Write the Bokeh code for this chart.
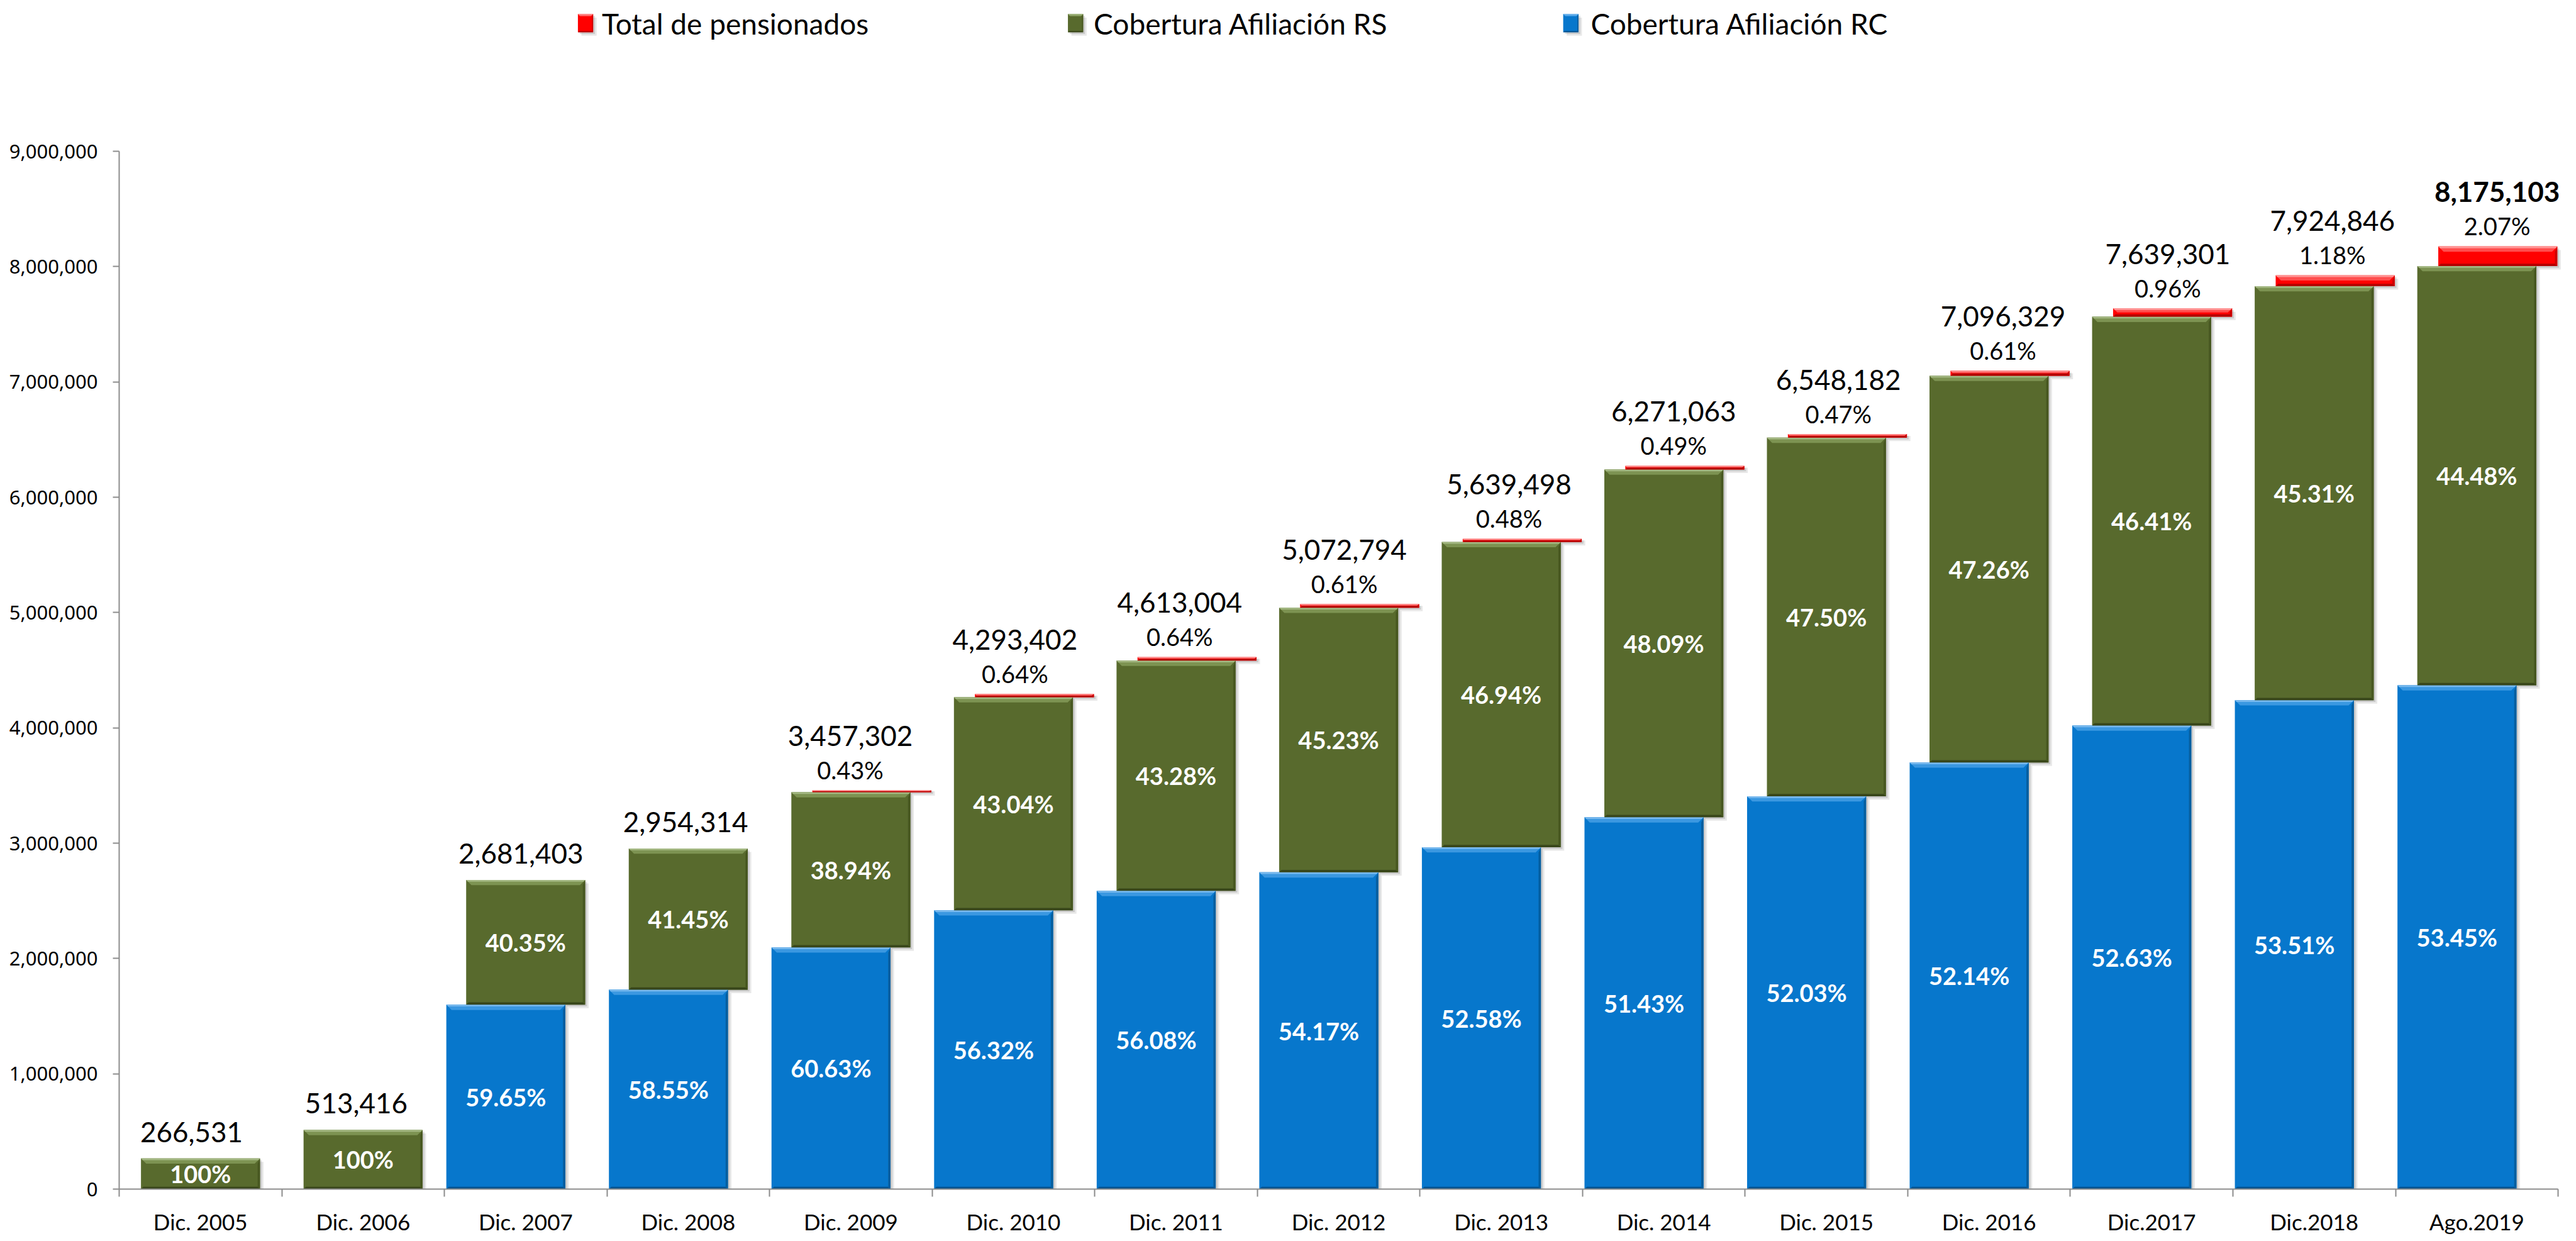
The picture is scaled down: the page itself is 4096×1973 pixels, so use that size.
from bokeh.plotting import figure
from bokeh.models import Range1d, FixedTicker, NumeralTickFormatter, ColumnDataSource
from bokeh.embed import file_html
from bokeh.resources import INLINE
from bokeh.core.properties import value

# ---------------- data ----------------
categories = ["Dic. 2005", "Dic. 2006", "Dic. 2007", "Dic. 2008", "Dic. 2009", "Dic. 2010",
              "Dic. 2011", "Dic. 2012", "Dic. 2013", "Dic. 2014", "Dic. 2015", "Dic. 2016",
              "Dic.2017", "Dic.2018", "Ago.2019"]
total_pensionados = [266531, 513416, 2681403, 2954314, 3457302, 4293402, 4613004, 5072794,
                     5639498, 6271063, 6548182, 7096329, 7639301, 7924846, 8175103]
pct_rc = [0.0, 0.0, 59.65, 58.55, 60.63, 56.32, 56.08, 54.17, 52.58, 51.43, 52.03, 52.14,
          52.63, 53.51, 53.45]
pct_rs = [100.0, 100.0, 40.35, 41.45, 38.94, 43.04, 43.28, 45.23, 46.94, 48.09, 47.50, 47.26,
          46.41, 45.31, 44.48]
pct_pens = [0.0, 0.0, 0.0, 0.0, 0.43, 0.64, 0.64, 0.61, 0.48, 0.49, 0.47, 0.61, 0.96, 1.18, 2.07]
y_ticks = [0, 1000000, 2000000, 3000000, 4000000, 5000000, 6000000, 7000000, 8000000, 9000000]
legend_labels = ["Total de pensionados", "Cobertura Afiliación RS", "Cobertura Afiliación  RC"]

# ---------------- layout ----------------
S = 0.932
W, H = 4088, 1965
FL = 189            # frame left (px)
FB = 1892           # frame bottom (px from top) = zero line
PXC = 277.4 * S     # px per category
PXM = 196.9 * S / 1e6  # px per unit
x_end = (W - FL) / PXC
y_end = FB / PXM


def dx(r):
    return r * S / PXC


def dy(r):
    return r * S / PXM


def X(r):
    return (r * S - 8 - FL) / PXC


def Y(r):
    return (FB - (r * S - 8)) / PXM


BW = 0.732
OFF = {"rc": -0.122, "rs": 0.0, "pens": 0.129}
COL = {
    "rc": dict(base="#0777CC", light="#3B98E1", lighter="#78B9EE", dark="#04528F", side="#055E9F"),
    "rs": dict(base="#586A2D", light="#7D9352", lighter="#A4B883", dark="#38461A", side="#475720"),
    "pens": dict(base="#FF0000", light="#FF4D4D", lighter="#FF9494", dark="#B30000", side="#CC0000"),
}

p = figure(width=W, height=H, x_range=Range1d(0, x_end), y_range=Range1d(0, y_end),
           output_backend="svg", toolbar_location=None, title=None,
           min_border=0, min_border_left=FL, min_border_right=0, min_border_top=0,
           min_border_bottom=H - FB)
p.outline_line_color = None
p.xgrid.visible = False
p.ygrid.visible = False
p.background_fill_color = "white"
p.border_fill_color = "white"

# ---------------- bar geometry ----------------
bars = []  # (series, x0, x1, bottom, top, bevel)
for i in range(len(categories)):
    tot = total_pensionados[i]
    rc = tot * pct_rc[i] / 100.0
    rs = tot * pct_rs[i] / 100.0
    pe = tot * pct_pens[i] / 100.0
    c = i + 0.5
    if rc > 0:
        xc = c + OFF["rc"]
        bars.append(("rc", xc - BW / 2, xc + BW / 2, 0.0, rc, 9))
    if rs > 0:
        xc = c + OFF["rs"]
        bars.append(("rs", xc - BW / 2, xc + BW / 2, rc, rc + rs, 9))
    if pe > 0:
        xc = c + OFF["pens"]
        bars.append(("pens", xc - BW / 2, xc + BW / 2, rc + rs, rc + rs + pe, 9))

# legend markers as small beveled bars
legend_series = ["pens", "rs", "rc"]
legend_marker_cx = [1007, 1843, 2688]
legend_text_x = [1035, 1874, 2722]
for k, ser in enumerate(legend_series):
    bars.append((ser, X(legend_marker_cx[k] - 13), X(legend_marker_cx[k] + 13), Y(63), Y(32), 4))

# shadows
for off_px, alpha in ((3, 0.13), (6, 0.09)):
    sl, sr, sb, st = [], [], [], []
    for ser, x0, x1, b, t, bv in bars:
        h = (t - b) / dy(1)
        if h < 2:
            continue
        sl.append(x0 + dx(off_px))
        sr.append(x1 + dx(off_px))
        sb.append(max(b - dy(off_px), 0))
        st.append(t - dy(min(off_px, h / 2)))
    p.quad(left=sl, right=sr, bottom=sb, top=st, fill_color="black", fill_alpha=alpha,
           line_color=None)

# base bars
p.quad(left=[b[1] for b in bars], right=[b[2] for b in bars],
       bottom=[b[3] for b in bars], top=[b[4] for b in bars],
       fill_color=[COL[b[0]]["base"] for b in bars], line_color=None)

# bevels
pxs, pys, pcs = [], [], []
for ser, x0, x1, b, t, bv in bars:
    h = (t - b) / dy(1)
    bt = min(bv, h / 2)
    bb = min(4 if bv > 5 else 2, h / 2)
    br = 4 if bv > 5 else 2
    c = COL[ser]
    pxs.append([x0, x1, x1 - dx(bt), x0 + dx(bt)])
    pys.append([t, t, t - dy(bt), t - dy(bt)])
    pcs.append(c["light"])
    hl = min(3, bt / 2)
    pxs.append([x0, x1, x1 - dx(hl), x0 + dx(hl)])
    pys.append([t, t, t - dy(hl), t - dy(hl)])
    pcs.append(c["lighter"])
    pxs.append([x1, x1, x1 - dx(br), x1 - dx(br)])
    pys.append([t, b, b + dy(bb), t - dy(bt)])
    pcs.append(c["side"])
    pxs.append([x0, x1, x1 - dx(bb), x0 + dx(bb)])
    pys.append([b, b, b + dy(bb), b + dy(bb)])
    pcs.append(c["dark"])
p.patches(xs=pxs, ys=pys, fill_color=pcs, line_color=None)

# ---------------- labels ----------------
tl_x, tl_y, tl_t, tl_s = [], [], [], []
pl_x, pl_y, pl_t = [], [], []
in_x, in_y, in_t = [], [], []
n = len(categories)
for i in range(n):
    tot = total_pensionados[i]
    rc = tot * pct_rc[i] / 100.0
    rs = tot * pct_rs[i] / 100.0
    pe = tot * pct_pens[i] / 100.0
    top = rc + rs + pe
    c = i + 0.5
    ldx = -0.055 + 0.18 * i / (n - 1)
    if pct_pens[i] > 0:
        pl_x.append(c + ldx)
        pl_y.append(top + dy(35))
        pl_t.append(f"{pct_pens[i]:.2f}%")
        tl_y.append(top + dy(35 + 58))
    else:
        tl_y.append(top + dy(45))
    tl_x.append(c + ldx)
    tl_t.append(f"{tot:,}")
    tl_s.append("bold" if i == n - 1 else "normal")
    if rc > 0:
        in_x.append(c + OFF["rc"])
        in_y.append(rc / 2)
        in_t.append(f"{pct_rc[i]:.2f}%")
    in_x.append(c + OFF["rs"])
    in_y.append(rc + rs / 2)
    in_t.append("100%" if pct_rs[i] == 100 else f"{pct_rs[i]:.2f}%")

p.text(source=ColumnDataSource(dict(x=tl_x, y=tl_y, t=tl_t, s=tl_s)), x="x", y="y", text="t",
       text_font=value("Lato"), text_font_size="44px", text_font_style="s",
       text_align="center", text_baseline="middle", text_color="black")
p.text(x=pl_x, y=pl_y, text=pl_t, text_font=value("Lato"), text_font_size="38px",
       text_align="center", text_baseline="middle", text_color="black")
p.text(x=in_x, y=in_y, text=in_t, text_font=value("Lato"), text_font_size="38px",
       text_font_style="bold", text_align="center", text_baseline="middle", text_color="white")

# legend text
p.text(x=[X(v) for v in legend_text_x], y=[Y(48)] * 3, text=legend_labels,
       text_font=value("Lato"), text_font_size="46px", text_align="left",
       text_baseline="middle", text_color="black")

# ---------------- axes ----------------
AX = "#8C8C8C"
p.yaxis.ticker = FixedTicker(ticks=y_ticks)
p.yaxis.formatter = NumeralTickFormatter(format="0,0")
p.yaxis.bounds = (0, 9000000)
p.yaxis.major_tick_out = 10
p.yaxis.major_tick_in = 0
p.yaxis.minor_tick_line_color = None
p.yaxis.major_tick_line_color = AX
p.yaxis.major_tick_line_width = 2
p.yaxis.axis_line_color = AX
p.yaxis.axis_line_width = 2
p.yaxis.major_label_standoff = 24
p.yaxis.major_label_text_font = "Noto Sans"
p.yaxis.major_label_text_font_size = "31px"
p.yaxis.major_label_text_color = "black"

centers = [i + 0.5 for i in range(n)]
p.xaxis.ticker = FixedTicker(ticks=centers, minor_ticks=list(range(n + 1)))
p.xaxis.bounds = (0, n)
p.xaxis.major_label_overrides = {c: categories[i] for i, c in enumerate(centers)}
p.xaxis.major_label_text_font = "Lato"
p.xaxis.major_label_text_font_size = "35px"
p.xaxis.major_label_text_color = "black"
p.xaxis.major_label_standoff = 18
p.xaxis.major_tick_out = 12
p.xaxis.major_tick_in = 0
p.xaxis.major_tick_line_color = None
p.xaxis.minor_tick_out = 12
p.xaxis.minor_tick_in = 0
p.xaxis.minor_tick_line_color = AX
p.xaxis.minor_tick_line_width = 2
p.xaxis.axis_line_color = AX
p.xaxis.axis_line_width = 2

open("out.html", "w").write(file_html(p, INLINE))
